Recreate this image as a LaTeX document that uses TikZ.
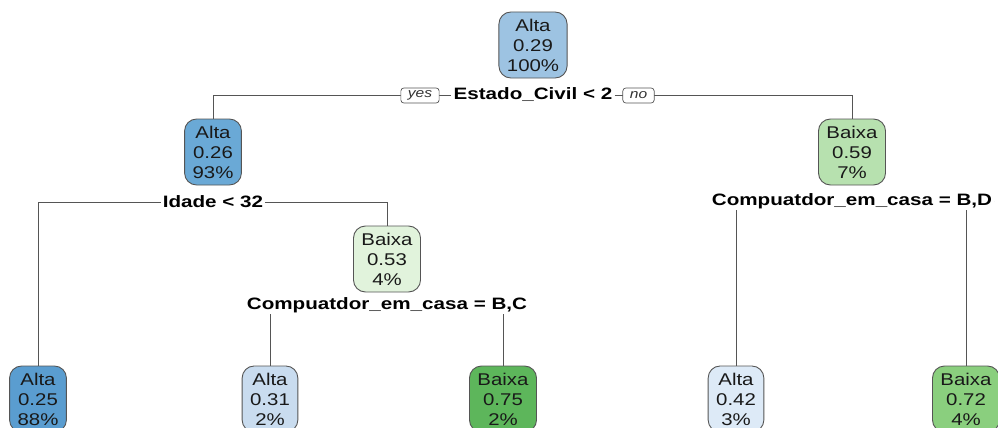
\documentclass[tikz,border=0pt]{standalone}
\usepackage{fontspec}
\setmainfont{Liberation Sans}
\newfontfamily\widefont[FakeStretch=1.2]{Liberation Sans}
\newfontfamily\splitfont[FakeStretch=1.25]{Liberation Sans}
\usetikzlibrary{backgrounds}
\definecolor{linegray}{HTML}{555555}
\definecolor{bA}{HTML}{9DC3E2}
\definecolor{bB}{HTML}{6AA9D6}
\definecolor{bC}{HTML}{5A9DD0}
\definecolor{bD}{HTML}{C9DCEF}
\definecolor{bE}{HTML}{DDEAF7}
\definecolor{gA}{HTML}{B7E1AF}
\definecolor{gB}{HTML}{E1F3DC}
\definecolor{gC}{HTML}{5DB65B}
\definecolor{gD}{HTML}{8ACF7E}
\tikzset{
  treenode/.style={draw=linegray, line width=0.9pt, rounded corners=12pt,
    align=center, font=\widefont\fontsize{17}{20}\selectfont,
    inner xsep=8pt, inner ysep=2pt, minimum height=66pt, text=black!90},
  splitlabel/.style={fill=white, inner xsep=2pt, inner ysep=1pt,
    font=\splitfont\bfseries\fontsize{16.5}{18}\selectfont},
  yesno/.style={draw=linegray, fill=white, rounded corners=3pt, line width=0.7pt,
    font=\widefont\itshape\fontsize{13}{14}\selectfont, inner xsep=7pt,
    inner ysep=0pt, minimum height=15pt, text=black!80},
  conn/.style={draw=linegray, line width=0.9pt}
}
\begin{document}
\begin{tikzpicture}[x=1pt, y=-1pt]
\useasboundingbox (0,0) rectangle (998,428);
% internal nodes
\node[treenode, fill=bA] (n1) at (533,45) {Alta\\0.29\\100\%};
\node[treenode, fill=bB] (n2) at (213,152) {Alta\\0.26\\93\%};
\node[treenode, fill=gA] (n3) at (852,152) {Baixa\\0.59\\7\%};
\node[treenode, fill=gB] (n4) at (387,259) {Baixa\\0.53\\4\%};
% leaves
\node[treenode, fill=bC] (l1) at (38,399) {Alta\\0.25\\88\%};
\node[treenode, fill=bD] (l2) at (270,399) {Alta\\0.31\\2\%};
\node[treenode, fill=gC] (l3) at (503,399) {Baixa\\0.75\\2\%};
\node[treenode, fill=bE] (l4) at (736,399) {Alta\\0.42\\3\%};
\node[treenode, fill=gD] (l5) at (966,399) {Baixa\\0.72\\4\%};
% split labels
\node[splitlabel] (s1) at (533,95) {Estado\_Civil < 2};
\node[yesno] (yes) at (420,95.5) {yes};
\node[yesno] (no) at (638.5,95.5) {no};
\node[splitlabel] (s2) at (213,202) {Idade < 32};
\node[splitlabel] (s3) at (852,201) {Compuatdor\_em\_casa = B,D};
\node[splitlabel] (s4) at (387,305) {Compuatdor\_em\_casa = B,C};
% connectors
\begin{scope}[on background layer]
\draw[conn] (n2.north) |- (s1) -| (n3.north);
\draw[conn] (l1.north) |- (s2) -| (n4.north);
\draw[conn] (l2.north) |- (s4) -| (l3.north);
\draw[conn] (l4.north) |- (s3) -| (l5.north);
\end{scope}
\end{tikzpicture}
\end{document}
